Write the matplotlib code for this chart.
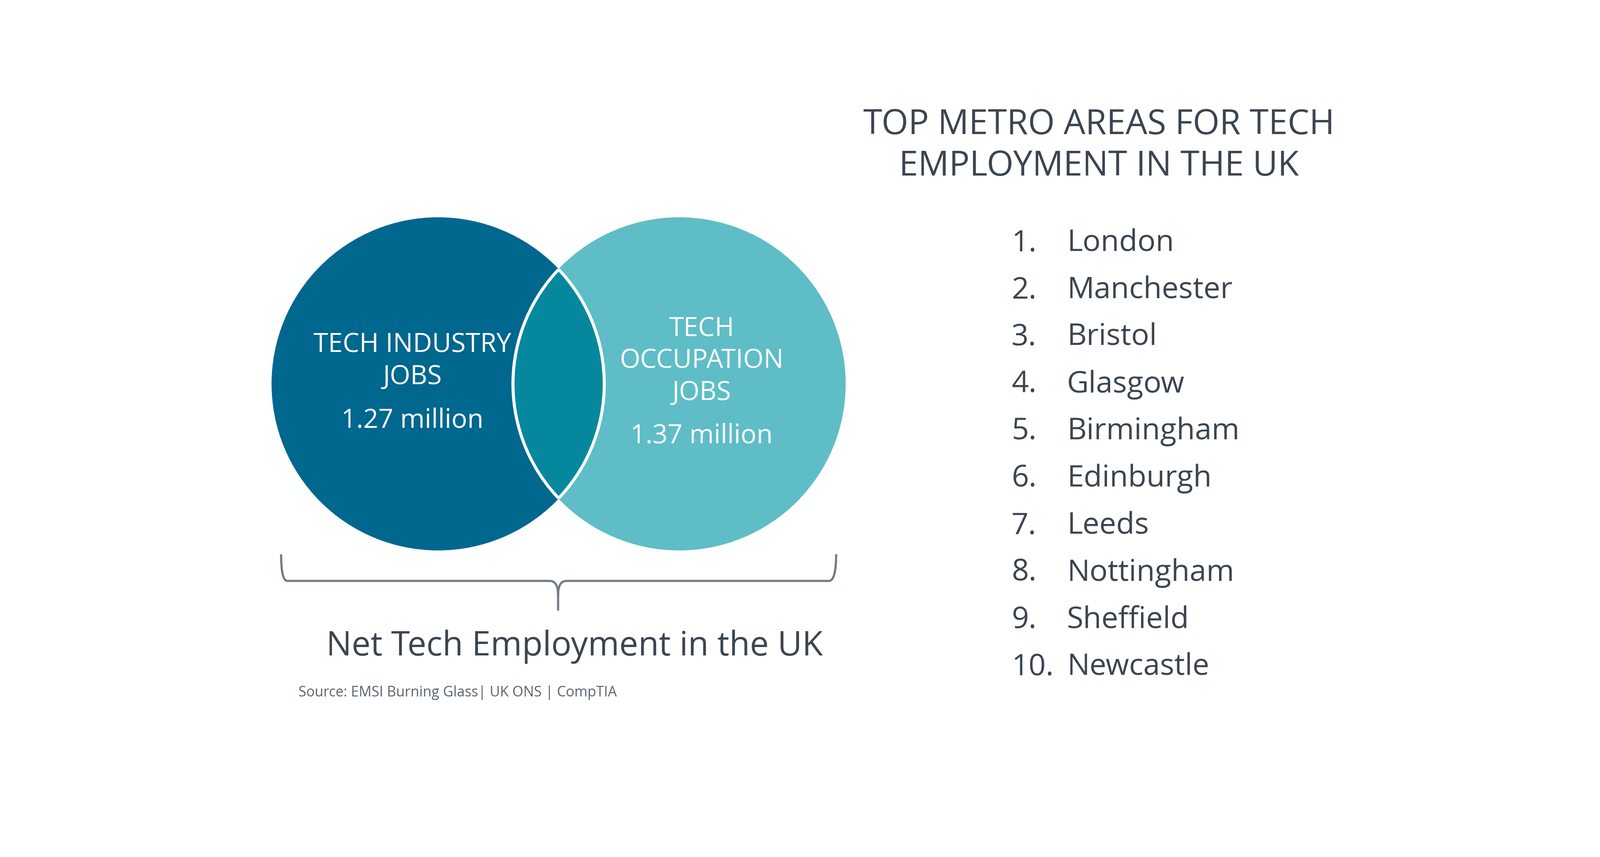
import matplotlib
matplotlib.use("Agg")
import matplotlib.pyplot as plt
from matplotlib.patches import Circle, PathPatch
from matplotlib.path import Path

# data
cities = ["London", "Manchester", "Bristol", "Glasgow", "Birmingham",
          "Edinburgh", "Leeds", "Nottingham", "Sheffield", "Newcastle"]
set_labels = ["TECH INDUSTRY\nJOBS", "TECH\nOCCUPATION\nJOBS"]
set_values = ["1.27 million", "1.37 million"]
title = "TOP METRO AREAS FOR TECH\nEMPLOYMENT IN THE UK"
total_label = "Net Tech Employment in the UK"
source = "Source: EMSI Burning Glass| UK ONS | CompTIA"

FONT = "Open Sans"
TXT = "#3B4550"
C_LEFT = "#00678F"
C_RIGHT = "#5EBDC6"
C_MID = "#05889E"

fig = plt.figure(figsize=(36.3, 19.43), dpi=100)
ax = fig.add_axes([0, 0, 1, 1])
ax.set_xlim(0, 1560)
ax.set_ylim(835, 0)
ax.axis("off")

r = 162
left = Circle((427, 374), r, color=C_LEFT, zorder=1)
right = Circle((662, 374), r, color=C_RIGHT, zorder=1)
ax.add_patch(left)
ax.add_patch(right)
mid = Circle((427, 374), r, color=C_MID, zorder=2)
ax.add_patch(mid)
mid.set_clip_path(right)
e1 = Circle((427, 374), r, fill=False, ec="white", lw=5, zorder=3)
ax.add_patch(e1)
e1.set_clip_path(Circle((662, 374), r, transform=ax.transData))
e2 = Circle((662, 374), r, fill=False, ec="white", lw=5, zorder=3)
ax.add_patch(e2)
e2.set_clip_path(Circle((427, 374), r, transform=ax.transData))

ax.text(402, 352, set_labels[0], ha="center", va="center", color="white",
        fontsize=43, family=FONT, linespacing=1.25, zorder=4)
ax.text(402, 410, set_values[0], ha="center", va="center", color="white",
        fontsize=43, family=FONT, zorder=4)
ax.text(684, 352, set_labels[1], ha="center", va="center", color="white",
        fontsize=43, family=FONT, linespacing=1.25, zorder=4)
ax.text(684, 425, set_values[1], ha="center", va="center", color="white",
        fontsize=43, family=FONT, zorder=4)

# brace under the circles
verts = [(274, 540), (274, 566), (280, 566), (536, 566), (544, 566), (544, 580),
         (544, 595), (544, 580), (544, 566), (552, 566), (808, 566), (815, 566),
         (815, 540)]
codes = [Path.MOVETO, Path.CURVE3, Path.CURVE3, Path.LINETO, Path.CURVE3, Path.CURVE3,
         Path.LINETO, Path.MOVETO, Path.CURVE3, Path.CURVE3, Path.LINETO, Path.CURVE3,
         Path.CURVE3]
ax.add_patch(PathPatch(Path(verts, codes), fill=False, ec="#707B86", lw=3.5))

ax.text(560, 630, total_label, ha="center", va="center", color=TXT,
        fontsize=55, family=FONT)
ax.text(291, 675, source, ha="left", va="center", color="#5A6570",
        fontsize=23, family=FONT)

ax.text(1071, 142, title, ha="center", va="center", color=TXT,
        fontsize=56, family=FONT, linespacing=1.25)
for i, c in enumerate(cities):
    y = 237 + i * 45.9
    ax.text(986, y, f"{i + 1}.", ha="left", va="center", color=TXT,
            fontsize=49, family=FONT)
    ax.text(1040, y, c, ha="left", va="center", color=TXT,
            fontsize=49, family=FONT)

fig.savefig("out.png", dpi=100, facecolor="white")
